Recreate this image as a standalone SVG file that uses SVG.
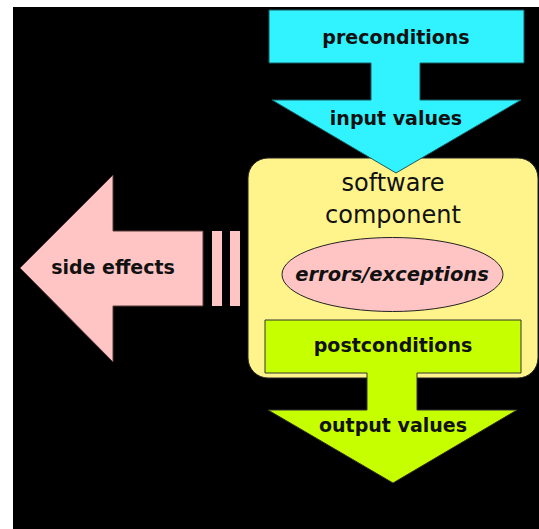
<svg xmlns="http://www.w3.org/2000/svg" width="539" height="529" viewBox="0 0 539 529">
<style>
.b{font-family:"DejaVu Sans",sans-serif;font-weight:bold;font-size:19px;fill:#111;text-anchor:middle}
.n{font-family:"DejaVu Sans",sans-serif;font-size:24px;fill:#111;text-anchor:middle}
.e{font-family:"DejaVu Sans",sans-serif;font-weight:bold;font-style:italic;font-size:19.5px;fill:#111;text-anchor:middle}
</style>
<rect x="0" y="0" width="539" height="529" fill="#fff"/>
<rect x="13" y="7" width="526" height="522" fill="#000"/>
<g id="side-effects">
<path d="M20,268 L113,175 L113,231 L203,231 L203,306 L113,306 L113,362 Z" fill="#ffc4c4" stroke="#5a3a3a" stroke-width="1"/>
<rect x="212" y="231" width="10" height="75" fill="#ffc4c4"/>
<rect x="230" y="231" width="10" height="75" fill="#ffc4c4"/>
<text class="b" x="113" y="274">side effects</text>
</g>
<g id="software-component">
<rect x="248" y="158" width="290" height="220" rx="20" fill="#fff48c" stroke="#222" stroke-width="1"/>
<text class="n" x="393" y="191">software</text>
<text class="n" x="393" y="223">component</text>
</g>
<g id="errors">
<ellipse cx="392.5" cy="274.5" rx="110.5" ry="37" fill="#ffc4c4" stroke="#222" stroke-width="1"/>
<text class="e" x="392" y="281">errors/exceptions</text>
</g>
<g id="postconditions">
<path d="M265,320 L521,320 L521,373 L417,373 L417,410 L517,410 L393,483 L268,410 L367,410 L367,373 L265,373 Z" fill="#c6ff00" stroke="#333" stroke-width="1"/>
<text class="b" x="393" y="352">postconditions</text>
<text class="b" x="393" y="432">output values</text>
</g>
<g id="preconditions">
<path d="M269,10 L524,10 L524,63 L420,63 L420,100 L521,100 L396,173 L272,100 L371,100 L371,63 L269,63 Z" fill="#30f3ff" stroke="#1a5a60" stroke-width="1"/>
<text class="b" x="396" y="44">preconditions</text>
<text class="b" x="396" y="125">input values</text>
</g>
<g id="connectors"/>
</svg>
